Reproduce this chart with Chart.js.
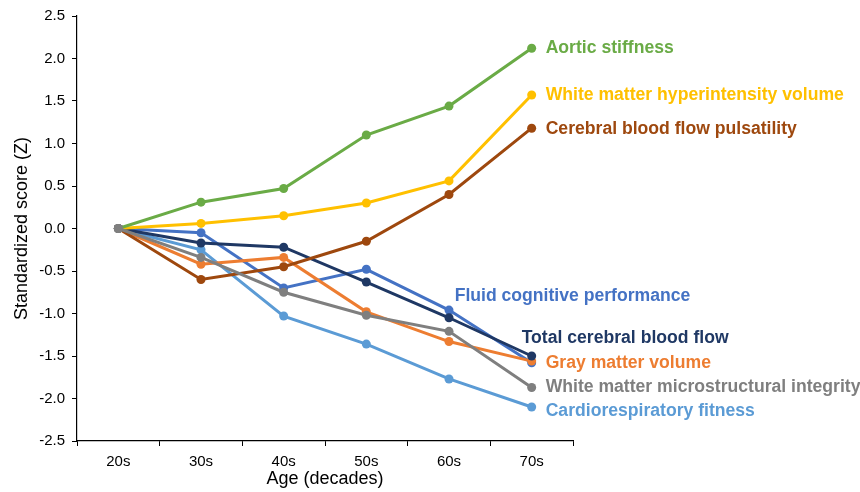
<!DOCTYPE html>
<html>
<head>
<meta charset="utf-8">
<script src="https://cdn.jsdelivr.net/npm/chart.js@4"></script>
<style>
  html, body { margin: 0; padding: 0; background: #fff; }
  #wrap { width: 860px; height: 492px; }
</style>
</head>
<body>
<div id="wrap"><canvas id="graphAge"></canvas></div>
<script>
// Datos
const decades = ['20s', '30s', '40s', '50s', '60s', '70s'];
const yTicks = [-2.5, -2.0, -1.5, -1.0, -0.5, 0.0, 0.5, 1.0, 1.5, 2.0, 2.5];

const aorticStiffness = [0, 0.31, 0.47, 1.10, 1.44, 2.12];
const wmHyperintensity = [0, 0.06, 0.15, 0.30, 0.56, 1.57];
const cbfPulsatility = [0, -0.60, -0.45, -0.15, 0.40, 1.18];
const fluidCognitive = [0, -0.05, -0.70, -0.48, -0.96, -1.58];
const totalCbf = [0, -0.17, -0.22, -0.63, -1.05, -1.50];
const grayMatter = [0, -0.42, -0.34, -0.98, -1.33, -1.56];
const wmIntegrity = [0, -0.34, -0.75, -1.02, -1.21, -1.87];
const cardioFitness = [0, -0.25, -1.03, -1.36, -1.77, -2.10];

// Series (la primera se dibuja encima)
const series = [
    { label: 'White matter microstructural integrity', data: wmIntegrity, color: '#7f7f7f', dx: 14, dy: 0 },
    { label: 'Aortic stiffness', data: aorticStiffness, color: '#6aab46', dx: 14, dy: 0 },
    { label: 'White matter hyperintensity volume', data: wmHyperintensity, color: '#ffc000', dx: 14, dy: 0 },
    { label: 'Cerebral blood flow pulsatility', data: cbfPulsatility, color: '#9e480e', dx: 14, dy: 1 },
    { label: 'Total cerebral blood flow', data: totalCbf, color: '#1f3864', dx: -10, dy: -18 },
    { label: 'Gray matter volume', data: grayMatter, color: '#ed7d31', dx: 14, dy: 2 },
    { label: 'Fluid cognitive performance', data: fluidCognitive, color: '#4472c4', dx: -77, dy: -67 },
    { label: 'Cardiorespiratory fitness', data: cardioFitness, color: '#5b9bd5', dx: 14, dy: 4 }
];

const endLabels = {
    id: 'endLabels',
    afterDatasetsDraw(chart) {
        const ctx = chart.ctx;
        ctx.save();
        ctx.font = 'bold 17.6px "Liberation Sans", Arial, sans-serif';
        ctx.textBaseline = 'middle';
        ctx.textAlign = 'left';
        chart.data.datasets.forEach((ds, i) => {
            const s = series[i];
            const pt = chart.getDatasetMeta(i).data[ds.data.length - 1];
            ctx.fillStyle = s.color;
            ctx.fillText(s.label, pt.x + s.dx, pt.y + s.dy);
        });
        ctx.restore();
    }
};

const graph = document.querySelector('#graphAge');
const dataChart = {
    labels: decades,
    datasets: series.map(s => ({
        label: s.label,
        data: s.data,
        borderColor: s.color,
        backgroundColor: s.color,
        pointBackgroundColor: i => i.dataIndex === 0 ? '#7f7f7f' : s.color,
        pointBorderColor: i => i.dataIndex === 0 ? '#7f7f7f' : s.color,
        borderWidth: 3,
        pointRadius: 4.5,
        pointBorderWidth: 0,
        tension: 0
    }))
};

const config = {
    type: 'line',
    data: dataChart,
    plugins: [endLabels],
    options: {
        responsive: true,
        maintainAspectRatio: false,
        animation: false,
        layout: { padding: { top: 16, right: 287, left: 0, bottom: 0 } },
        plugins: { legend: { display: false }, tooltip: { enabled: false } },
        scales: {
            x: {
                offset: true,
                grid: { offset: true, drawOnChartArea: false, color: '#000', tickLength: 5 },
                border: { color: '#000', width: 1.2 },
                ticks: { color: '#000', padding: 7, font: { size: 15, family: '"Liberation Sans", Arial' } },
                title: { display: true, text: 'Age (decades)', color: '#000', padding: { top: 2, bottom: 2 }, font: { size: 18, family: '"Liberation Sans", Arial' } },
                afterFit: s => { s.height = 51; }
            },
            y: {
                min: -2.5,
                max: 2.5,
                afterBuildTicks: s => { s.ticks = yTicks.map(v => ({ value: v })); },
                grid: { drawOnChartArea: false, color: '#000', tickLength: 5 },
                border: { color: '#000', width: 1.2 },
                ticks: { color: '#000', padding: 7, font: { size: 15, family: '"Liberation Sans", Arial' }, callback: v => v.toFixed(1) },
                title: { display: true, text: 'Standardized score (Z)', color: '#000', padding: { top: 11, bottom: 2 }, font: { size: 18, family: '"Liberation Sans", Arial' } },
                afterFit: s => { s.width = 77; }
            }
        }
    }
};

new Chart(graph, config);
</script>
</body>
</html>
